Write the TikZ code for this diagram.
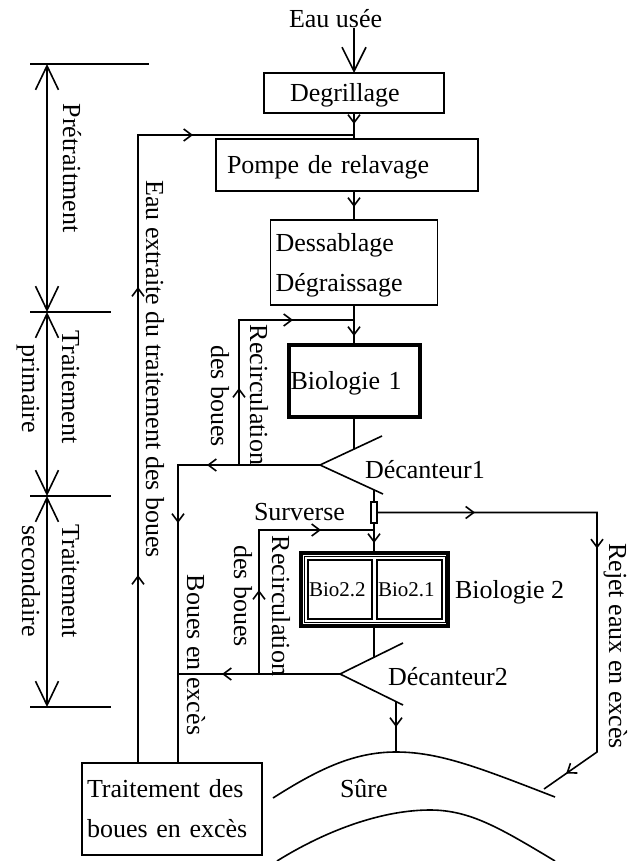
\documentclass[tikz,border=0pt]{standalone}
\usepackage{fontspec}
\setmainfont{Liberation Serif}
\usetikzlibrary{arrows.meta,decorations.markings}
\begin{document}
\begin{tikzpicture}[x=1pt,y=-1pt,
  line width=1.6pt,
  >={Straight Barb[length=8pt,width=12pt]},
  every node/.style={inner sep=0pt, outer sep=0pt},
  txt/.style={font=\fontsize{26}{40}\selectfont},
  smalltxt/.style={font=\fontsize{21}{26}\selectfont},
  box/.style={draw, txt, align=left, text height=17pt, text depth=0pt, inner ysep=0pt},
  biobox/.style={draw, smalltxt, align=left, text height=14pt, text depth=0pt, inner ysep=0pt, line width=1.8pt},
  lab/.style={txt, anchor=base west},
  rlab/.style={txt, rotate=-90, anchor=base},
  bigtip/.style={-{Straight Barb[length=24pt,width=24pt]}},
  dimline/.style={{Straight Barb[length=24pt,width=23pt]}-{Straight Barb[length=24pt,width=23pt]}},
  marr/.style={postaction={decorate},decoration={markings,mark=at position #1 with {\arrow{>}}}},
  marrtwo/.style 2 args={postaction={decorate},decoration={markings,
     mark=at position #1 with {\arrow{>}},mark=at position #2 with {\arrow{>}}}},
  marrthree/.style n args={3}{postaction={decorate},decoration={markings,
     mark=at position #1 with {\arrow{>}},mark=at position #2 with {\arrow{>}},
     mark=at position #3 with {\arrow{>}}}}
]
\useasboundingbox (0,0) rectangle (642,861);

% ---------- boxes ----------
\node[box, text width=128pt, inner xsep=26pt, minimum height=40pt] (deg) at (354,93) {Degrillage};
\node[box, text width=240pt, inner xsep=11pt, minimum height=52pt] (pompe) at (347,165) {Pompe de relavage};
\node[box, text width=157pt, inner xsep=5pt, minimum height=85pt, text depth=40pt] (dess) at (354,262.5) {Dessablage\\Dégraissage};
\node[box, line width=4pt, text width=127pt, inner xsep=2pt, minimum height=72pt] (bio1) at (354,381) {Biologie 1};
\node[box, text width=170pt, inner xsep=5pt, minimum height=92pt, text depth=40pt] (tdb) at (172,809) {Traitement des\\boues en excès};

\node[draw, line width=4pt, minimum width=147pt, minimum height=73pt] (bio2) at (374,589.5) {};
\node[draw, line width=1pt, minimum width=140.5pt, minimum height=66pt] (bio2in) at (374.75,589.5) {};
\node[biobox, text width=62pt, inner xsep=1pt, minimum height=59pt] (b22) at (340,589.5) {Bio2.2};
\node[biobox, text width=63pt, inner xsep=1pt, minimum height=59pt] (b21) at (409.5,589.5) {Bio2.1};

\node[draw, line width=1.5pt, minimum width=6pt, minimum height=21pt] (ovf) at (374,512.5) {};

% ---------- decanters ----------
\coordinate (d1u) at (382,436);
\coordinate (d1a) at (320,465);
\coordinate (d1l) at (383,494);
\draw (d1u) -- (d1a) -- (d1l);
\coordinate (d2u) at (403,643);
\coordinate (d2a) at (340,674);
\coordinate (d2l) at (403,705);
\draw (d2u) -- (d2a) -- (d2l);

% ---------- river ----------
\coordinate (rv) at (396,752);
\draw (273,798) .. controls (320,768) and (355,752) .. (rv)
      .. controls (440,752) and (480,768) .. (555,797);
\draw (277,861) .. controls (330,828) and (385,810) .. (430,810)
      .. controls (470,810) and (500,828) .. (555,861);

% ---------- labels ----------
\node[lab] (eau) at (289,28) {Eau usée};
\node[lab] (ld1) at (365,478) {Décanteur1};
\node[lab] (lsur) at (254,520) {Surverse};
\node[lab] (lb2) at (455,598) {Biologie 2};
\node[lab] (ld2) at (388,685) {Décanteur2};
\node[lab] (lsure) at (340,797) {Sûre};

\node[rlab] (lpre) at (63,168) {Prétraitment};
\node[rlab] (leau) at (146,369) {Eau extraite du traitement des boues};
\node[rlab] (lp1) at (62,387) {Traitement};
\node[rlab] (lp2) at (22,389) {primaire};
\node[rlab] (ls1) at (62,581) {Traitement};
\node[rlab] (ls2) at (22,581) {secondaire};
\node[rlab] (lr1a) at (250,395) {Recirculation};
\node[rlab] (lr1b) at (211,396) {des boues};
\node[rlab] (lr2a) at (272,606) {Recirculation};
\node[rlab] (lr2b) at (234,596) {des boues};
\node[rlab] (lbe) at (187,655) {Boues en excès};
\node[rlab] (lrej) at (609,646) {Rejet eaux en excès};

% ---------- main flow ----------
\draw[bigtip] (eau.base -| deg.north) -- (deg.north);
\draw[marr=11pt] (deg.south) -- (deg.south |- pompe.north);
\draw[marr=16pt] (pompe.north -| dess.north) ++(0,52) -- (dess.north);
\draw[marr=31pt] (dess.south) -- (bio1.north);
\coordinate (d1i) at (354,449);
\draw (bio1.south) -- (d1i);
\coordinate (d1o) at (374,490);
\draw (d1o) -- (ovf.north);
\draw[marr=20pt] (ovf.south) -- (bio2.north);
\coordinate (d2i) at (374,657);
\draw (bio2.south) -- (d2i);
\coordinate (d2o) at (396,702);
\draw[marr=25pt] (d2o) -- (rv);

% ---------- sludge lines ----------
\coordinate (b1) at (178,465);
\draw[marrtwo={113pt}{200pt}] (d1a) -- (b1) -- (b1 |- tdb.north);
\coordinate (rc1) at (239,465);
\coordinate (rc1t) at (239,320);
\coordinate (j1) at (354,320);
\draw[marrtwo={77pt}{199pt}] (rc1) -- (rc1t) -- (j1);
\coordinate (e1) at (138,135);
\coordinate (j0) at (354,135);
\draw[marrthree={188pt}{476pt}{683pt}] (e1 |- tdb.north) -- (e1) -- (j0);
\draw[marr=118pt] (d2a) -- (b1 |- d2a);
\coordinate (rc2) at (259,674);
\coordinate (s1) at (259,530);
\coordinate (s2) at (374,530);
\draw[marrtwo={84pt}{206pt}] (rc2) -- (s1) -- (s2);

% ---------- overflow rejection ----------
\coordinate (r1) at (597,512.5);
\coordinate (r2) at (597,752);
\coordinate (r3) at (544,789);
\draw[marrthree={98pt}{256pt}{497pt}] (ovf.east) -- (r1) -- (r2) -- (r3);

% ---------- dimension lines ----------
\coordinate (dm0) at (47,64);
\coordinate (dm1) at (47,312);
\coordinate (dm2) at (47,496);
\coordinate (dm3) at (47,707);
\draw (30,64) -- (149,64);
\draw (30,312) -- (111,312);
\draw (30,496) -- (111,496);
\draw (30,707) -- (111,707);
\draw[dimline] (dm0) -- (dm1);
\draw[dimline] (dm1) -- (dm2);
\draw[dimline] (dm2) -- (dm3);
\end{tikzpicture}
\end{document}
